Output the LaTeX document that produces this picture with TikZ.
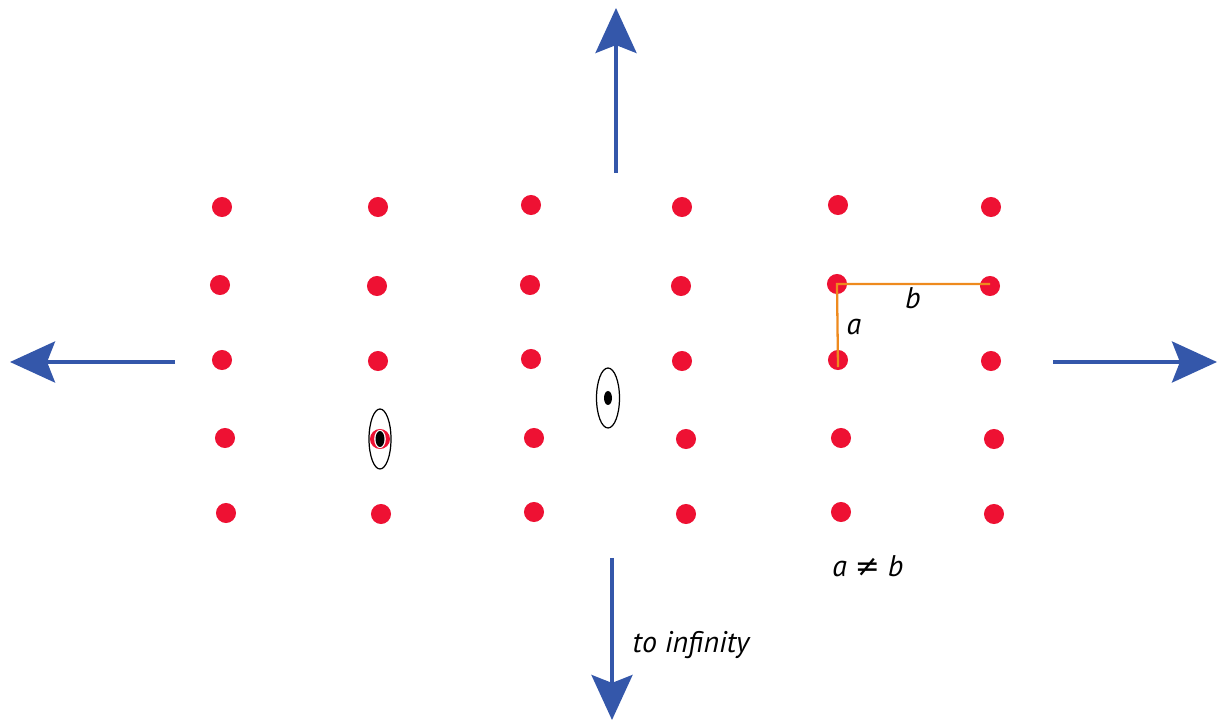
\documentclass[tikz,border=0pt]{standalone}
\usepackage{fontspec}
\setmainfont{PT Sans}
\newfontfamily\symfont{DejaVu Sans}
\usetikzlibrary{arrows.meta}

\definecolor{latticered}{HTML}{EE1133}
\definecolor{pullblue}{HTML}{3457AA}
\definecolor{edgeorange}{HTML}{EE8A1E}

\begin{document}
\begin{tikzpicture}[
    x=0.02cm,
    y=-0.02cm,
    site/.style={circle, fill=latticered, inner sep=0pt, minimum size=11.4pt},
    pull/.style={-{Stealth[length=25.6pt, width=23.3pt, inset=4.5pt]},
        line width=2.3pt, pullblue},
    spacing/.style={edgeorange, line width=1.3pt},
    orbit/.style={draw=black, line width=0.7pt},
    every node/.style={font=\itshape\fontsize{17}{20}\selectfont}
]

\useasboundingbox (0,0) rectangle (1221,722);

% -------------------------------------------------
% Lattice sites
% -------------------------------------------------

\foreach \c/\r/\x/\y in {
    1/1/222/207, 1/2/220/285, 1/3/222/360, 1/4/225/438, 1/5/226/513,
    2/1/378/207, 2/2/377/286, 2/3/378/361, 2/4/380/439, 2/5/381/514,
    3/1/531/205, 3/2/530/285, 3/3/531/359, 3/4/534/438, 3/5/534/512,
    4/1/682/207, 4/2/681/286, 4/3/682/361, 4/4/686/439, 4/5/686/514,
    5/1/838/205, 5/2/837/284, 5/3/838/360, 5/4/841/438, 5/5/841/512,
    6/1/991/207, 6/2/990/286, 6/3/991/361, 6/4/994/439, 6/5/994/514}
    \node[site] (s\c\r) at (\x,\y) {};

% -------------------------------------------------
% Bound electron on a site
% -------------------------------------------------

\draw[orbit] (s24.center) ellipse[x radius=11, y radius=30];
\fill[white] (s24.center) ellipse[x radius=5.8, y radius=9.2];
\fill[black] (s24.center) ellipse[x radius=4.5, y radius=8];

% -------------------------------------------------
% Free electron between sites
% -------------------------------------------------

\coordinate (e) at (608,398);
\draw[orbit] (e) ellipse[x radius=11.5, y radius=30];
\fill[black] (e) ellipse[x radius=4, y radius=7];

% -------------------------------------------------
% Lattice constants
% -------------------------------------------------

\draw[spacing] ([yshift=-4pt]s53.center) -- (s52.center) -- (s52.center -| s62.center);

\node (a) at (854,327) {a};
\node (b) at (913,298) {b};
\node (neq) at (868,566) {a {\symfont ≠} b};

% -------------------------------------------------
% Stretching to infinity
% -------------------------------------------------

\coordinate (up0) at (616,173);
\coordinate (up1) at (616,8);
\coordinate (dn0) at (612,558);
\coordinate (dn1) at (612,720);
\coordinate (lt0) at (175,362);
\coordinate (lt1) at (10,362);
\coordinate (rt0) at (1053,362);
\coordinate (rt1) at (1217,362);

\draw[pull] (up0) -- (up1);
\draw[pull] (dn0) -- (dn1);
\draw[pull] (lt0) -- (lt1);
\draw[pull] (rt0) -- (rt1);

\node (inf) at (691,645) {to infinity};

\end{tikzpicture}
\end{document}
